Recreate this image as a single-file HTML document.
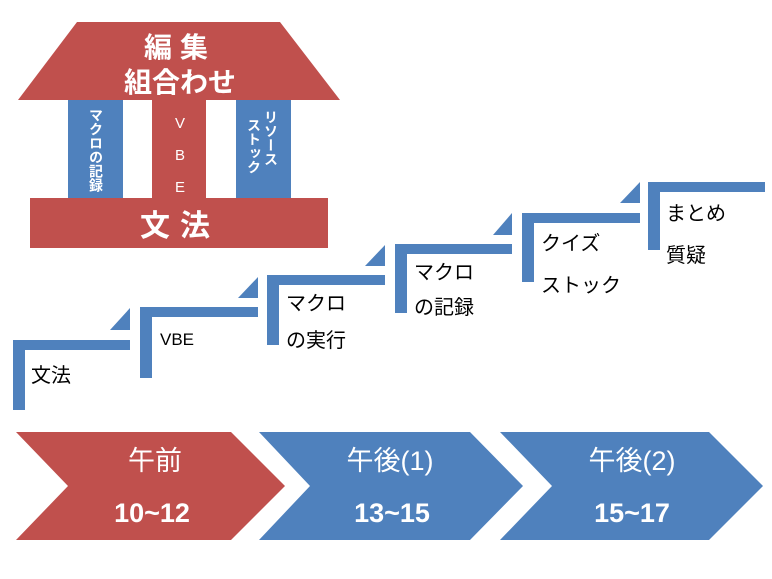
<!DOCTYPE html>
<html><head><meta charset="utf-8"><style>
body{margin:0;background:#fff;position:relative;width:772px;height:579px;overflow:hidden;}
svg text{font-family:"Liberation Sans","Noto Sans CJK JP",sans-serif;}
.v{position:absolute;writing-mode:vertical-rl;text-orientation:upright;color:#fff;font-weight:bold;font-size:14px;line-height:16px;letter-spacing:0px;font-family:"Noto Sans CJK JP",sans-serif;}
</style></head><body>
<svg width="772" height="579" viewBox="0 0 772 579" xmlns="http://www.w3.org/2000/svg" style="position:absolute;left:0;top:0">
<polygon points="77,22 280,22 340,100 18,100" fill="#c0504d"/>
<rect x="68" y="100" width="55" height="98" fill="#4f81bd"/>
<rect x="152" y="100" width="54" height="98" fill="#c0504d"/>
<rect x="236" y="100" width="55" height="98" fill="#4f81bd"/>
<rect x="30" y="198" width="298" height="50" fill="#c0504d"/>
<g fill="#fff" font-weight="bold" text-anchor="middle">
<text x="180" y="57" font-size="28" letter-spacing="8">編集</text>
<text x="180" y="92" font-size="28">組合わせ</text>
<text x="180" y="236" font-size="30" letter-spacing="10">文法</text>
<text x="180" y="128" font-size="15" font-weight="normal">V</text>
<text x="180" y="160" font-size="15" font-weight="normal">B</text>
<text x="180" y="192" font-size="15" font-weight="normal">E</text>
</g>
<g fill="#4f81bd">
<path d="M13,340 H130 V350 H25 V410 H13Z"/><polygon points="110,330 130,308 130,330"/>
<path d="M140,307 H258 V317 H152 V378 H140Z"/><polygon points="238,298 258,277 258,298"/>
<path d="M267,275 H385 V285 H279 V345 H267Z"/><polygon points="365,266 385,245 385,266"/>
<path d="M395,244 H512 V254 H407 V313 H395Z"/><polygon points="493,235 512,213 512,235"/>
<path d="M522,213 H640 V223 H534 V282 H522Z"/><polygon points="620,203 640,182 640,203"/>
<path d="M648,182 H765 V192 H660 V250 H648Z"/>
</g>
<g fill="#000" font-size="20">
<text x="31" y="382">文法</text>
<text x="160" y="345" font-size="17">VBE</text>
<text x="286" y="310">マクロ</text><text x="286" y="347">の実行</text>
<text x="414" y="279">マクロ</text><text x="414" y="314">の記録</text>
<text x="541" y="250">クイズ</text><text x="541" y="292">ストック</text>
<text x="666" y="220">まとめ</text><text x="666" y="262">質疑</text>
</g>
<polygon points="16,432 231,432 285,486 231,540 16,540 68,486" fill="#c0504d"/>
<polygon points="259,432 470,432 523,486 470,540 259,540 310,486" fill="#4f81bd"/>
<polygon points="500,432 709,432 763,486 709,540 500,540 552,486" fill="#4f81bd"/>
<g fill="#fff" text-anchor="middle" font-size="27">
<text x="155" y="470">午前</text>
<text x="152" y="522" font-weight="bold">10~12</text>
<text x="390" y="470">午後(1)</text>
<text x="392" y="522" font-weight="bold">13~15</text>
<text x="632" y="470">午後(2)</text>
<text x="632" y="522" font-weight="bold">15~17</text>
</g>
</svg>
<div class="v" style="left:88px;top:108px;">マクロの記録</div>
<div class="v" style="left:263px;top:110px;">リソース</div>
<div class="v" style="left:246px;top:118px;">ストック</div>
</body></html>
